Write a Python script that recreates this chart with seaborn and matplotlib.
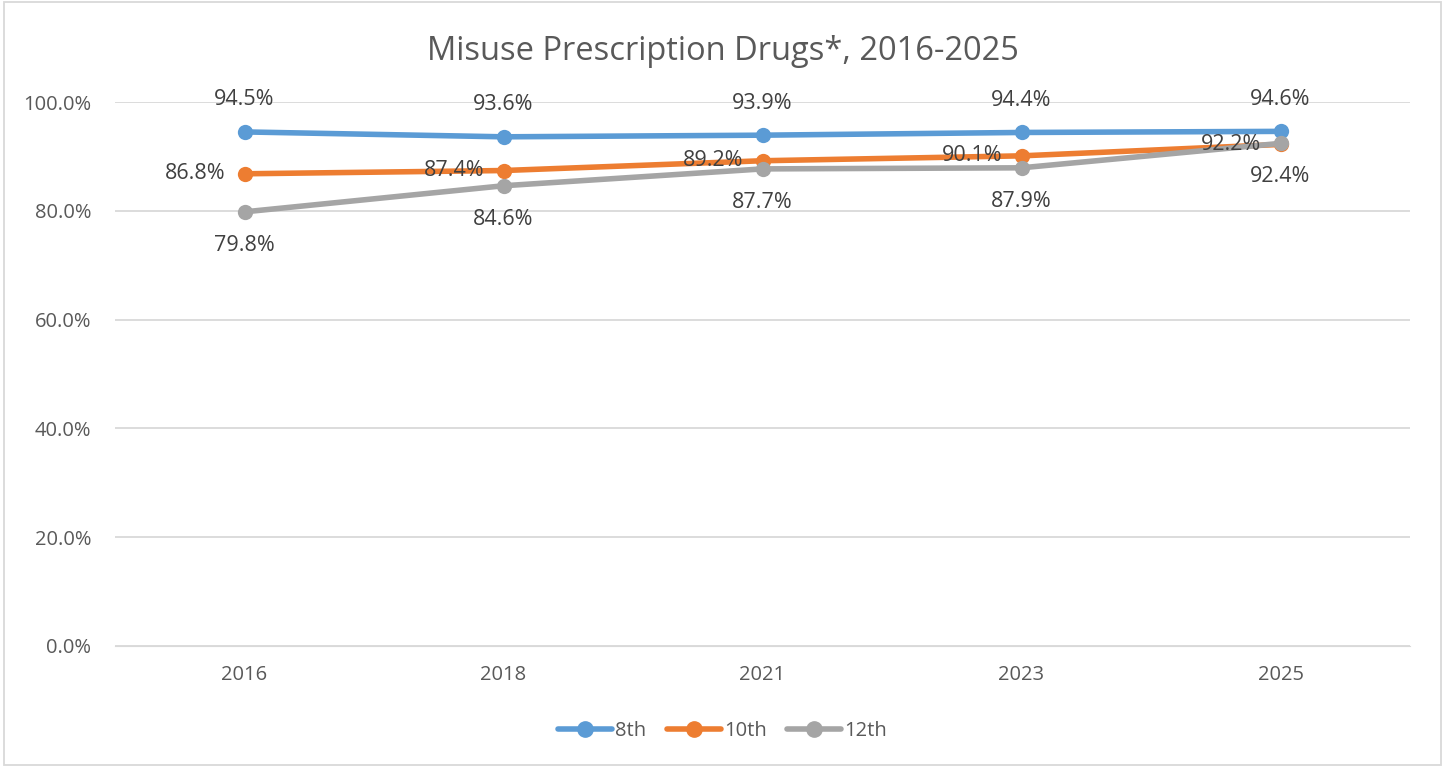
import pandas as pd
import matplotlib.pyplot as plt
import seaborn as sns
from matplotlib.patches import Rectangle

years = ["2016", "2018", "2021", "2023", "2025"]
grade_8 = [0.945, 0.936, 0.939, 0.944, 0.946]
grade_10 = [0.868, 0.874, 0.892, 0.901, 0.922]
grade_12 = [0.798, 0.846, 0.877, 0.879, 0.924]
grades = ["8th", "10th", "12th"]
colors = ["#5B9BD5", "#ED7D31", "#A5A5A5"]

df = pd.DataFrame({
    "Year": years * 3,
    "Value": grade_8 + grade_10 + grade_12,
    "Grade": ["8th"] * 5 + ["10th"] * 5 + ["12th"] * 5,
})

sns.set_style("white")
plt.rcParams['font.family'] = ['Open Sans', 'DejaVu Sans']

fig = plt.figure(figsize=(14.45, 7.67), dpi=100)
ax = fig.add_axes([0.0796, 0.158, 0.8962, 0.709])

sns.lineplot(data=df, x="Year", y="Value", hue="Grade", hue_order=grades,
             palette=colors, marker="o", markersize=11, markeredgewidth=0,
             linewidth=4, sort=False, ax=ax, zorder=3)

ax.set_xlim(-0.5, 4.5)
ax.set_ylim(0, 1.0)
ax.set_yticks([0, 0.2, 0.4, 0.6, 0.8, 1.0])
ax.set_yticklabels([f"{v*100:.1f}%" for v in [0, 0.2, 0.4, 0.6, 0.8, 1.0]])
ax.yaxis.grid(True, color="#d9d9d9", linewidth=1.3)
ax.set_axisbelow(True)
for s in ax.spines.values():
    s.set_visible(False)
ax.spines['bottom'].set_visible(True)
ax.spines['bottom'].set_color("#d9d9d9")
ax.tick_params(axis='y', length=0, labelsize=14.5, colors="#595959", pad=17)
ax.tick_params(axis='x', length=0, labelsize=14.5, colors="#595959", pad=14)
ax.set_xlabel("")
ax.set_ylabel("")

lab_kw = dict(fontsize=15.5, color="#404040", clip_on=False)
for i, v in enumerate(grade_8):
    ax.annotate(f"{v*100:.1f}%", (i, v), xytext=(0, 23), textcoords="offset points",
                ha="center", va="center", **lab_kw)
for i, v in enumerate(grade_10):
    ax.annotate(f"{v*100:.1f}%", (i, v), xytext=(-14, 0), textcoords="offset points",
                ha="right", va="center", **lab_kw)
for i, v in enumerate(grade_12):
    ax.annotate(f"{v*100:.1f}%", (i, v), xytext=(0, -24), textcoords="offset points",
                ha="center", va="center", **lab_kw)

fig.suptitle("Misuse Prescription Drugs*, 2016-2025", x=0.5, y=0.955,
             fontsize=23.5, color="#595959")

ax.get_legend().remove()
handles = [plt.Line2D([], [], color=c, marker="o", markersize=11, linewidth=4) for c in colors]
fig.legend(handles, grades, loc="center", bbox_to_anchor=(0.5, 0.047), ncol=3,
           frameon=False, fontsize=14.5, handlelength=2.7, columnspacing=1.0,
           handletextpad=0.15, labelcolor="#595959")

fig.patches.append(Rectangle((0.003, 0.003), 0.994, 0.994, transform=fig.transFigure,
                             fill=False, edgecolor="#d9d9d9", linewidth=1.3))

fig.savefig("out.png", dpi=100)
